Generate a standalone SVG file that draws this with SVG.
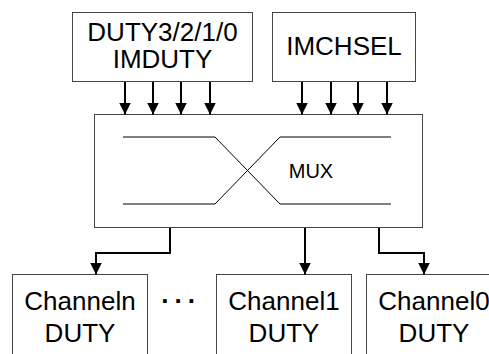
<svg xmlns="http://www.w3.org/2000/svg" width="489" height="354" viewBox="0 0 489 354">
<style>
.box{fill:#fff;stroke:#444;stroke-width:1}
.t{font-family:"Liberation Sans",Arial,sans-serif;font-size:26px;fill:#000;text-anchor:middle}
.w{fill:none;stroke:#000;stroke-width:2}
.thin{fill:none;stroke:#000;stroke-width:1}
</style>
<defs>
<marker id="ah" markerUnits="userSpaceOnUse" markerWidth="12" markerHeight="12" refX="12" refY="6" orient="auto">
<path d="M0,0 L12,6 L0,12 Z" fill="#000"/>
</marker>
</defs>
<rect width="489" height="354" fill="#fff"/>
<g id="duty">
<rect class="box" x="72.5" y="12.5" width="180" height="69"/>
<text class="t" x="162.5" y="40.7">DUTY3/2/1/0</text>
<text class="t" x="162.5" y="68.3">IMDUTY</text>
</g>
<g id="imchsel">
<rect class="box" x="272.5" y="12.5" width="143" height="69"/>
<text class="t" x="344" y="55">IMCHSEL</text>
</g>
<g id="mux">
<rect class="box" x="94.5" y="114.5" width="328" height="113"/>
<path class="thin" d="M123,137 H215 L280,204 H391 M123,204 H215 L280,137 H391"/>
<text class="t" x="311" y="177.5" style="font-size:20px">MUX</text>
</g>
<g id="channeln">
<rect class="box" x="12.5" y="274.5" width="135" height="100"/>
<text class="t" x="80" y="310">Channeln</text>
<text class="t" x="80" y="341.7">DUTY</text>
</g>
<g id="dots">
<text class="t" x="181.2" y="303" style="font-weight:bold;letter-spacing:6px">...</text>
</g>
<g id="channel1">
<rect class="box" x="216.5" y="274.5" width="135" height="100"/>
<text class="t" x="284" y="310">Channel1</text>
<text class="t" x="284" y="341.7">DUTY</text>
</g>
<g id="channel0">
<rect class="box" x="366.5" y="274.5" width="135" height="100"/>
<text class="t" x="434" y="310">Channel0</text>
<text class="t" x="434" y="341.7">DUTY</text>
</g>
<g id="connectors">
<path class="w" marker-end="url(#ah)" d="M125,82 V114.5"/>
<path class="w" marker-end="url(#ah)" d="M153,82 V114.5"/>
<path class="w" marker-end="url(#ah)" d="M181,82 V114.5"/>
<path class="w" marker-end="url(#ah)" d="M210,82 V114.5"/>
<path class="w" marker-end="url(#ah)" d="M302,82 V114.5"/>
<path class="w" marker-end="url(#ah)" d="M331,82 V114.5"/>
<path class="w" marker-end="url(#ah)" d="M358,82 V114.5"/>
<path class="w" marker-end="url(#ah)" d="M387,82 V114.5"/>
<path class="w" marker-end="url(#ah)" d="M170,228 V253 H96 V274.5"/>
<path class="w" marker-end="url(#ah)" d="M305,228 V274.5"/>
<path class="w" marker-end="url(#ah)" d="M379,228 V253 H424 V274.5"/>
</g>
</svg>
